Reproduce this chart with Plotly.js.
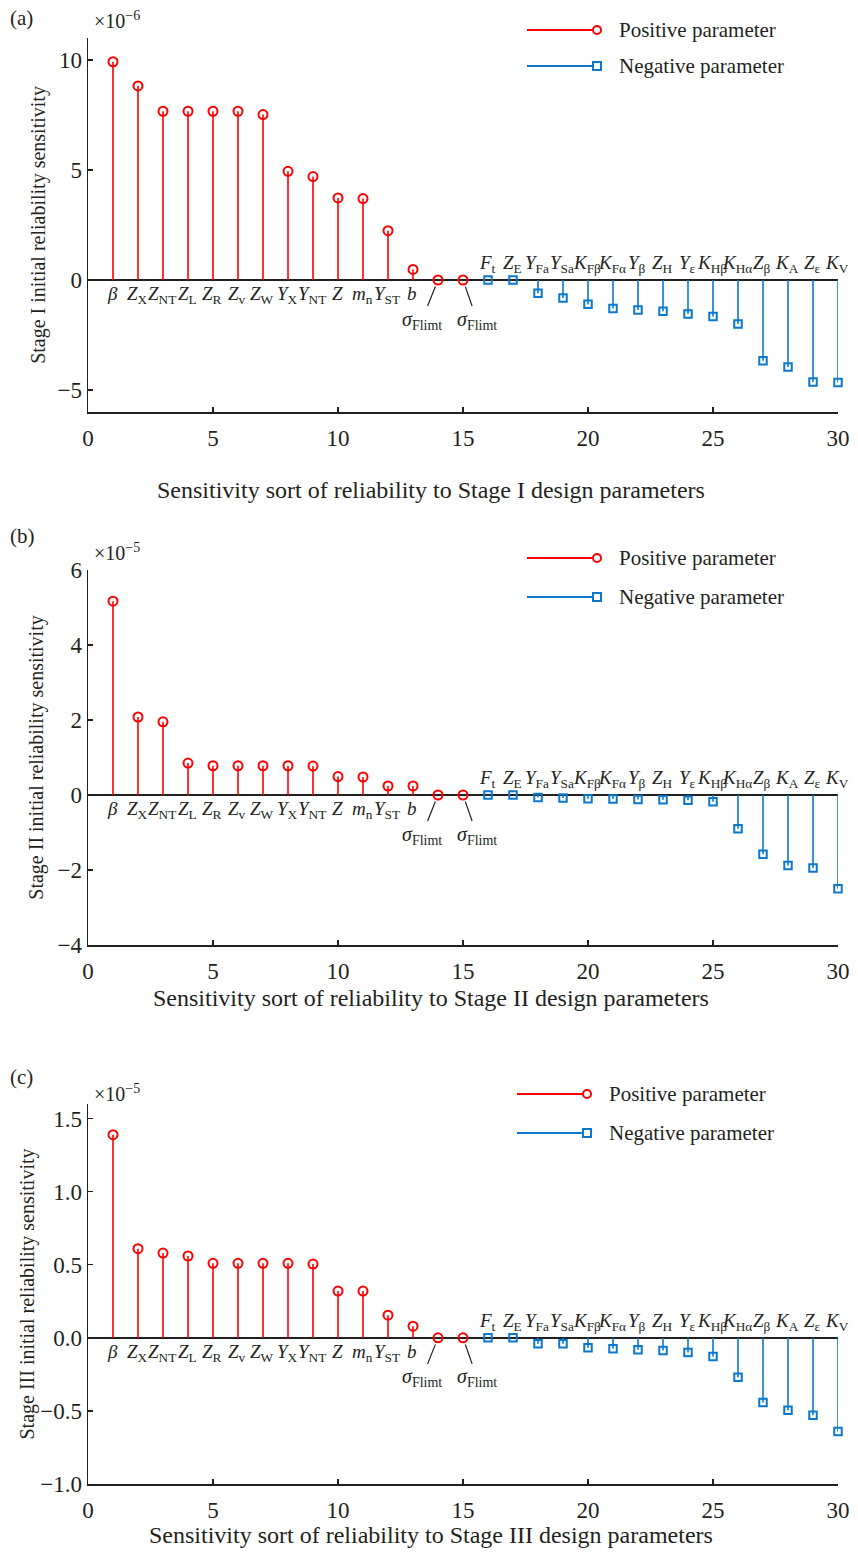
<!DOCTYPE html>
<html>
<head>
<meta charset="utf-8">
<script src="https://cdn.plot.ly/plotly-3.0.1.min.js"></script>
<style>html,body{margin:0;padding:0;background:#fff;}#chart{width:858px;height:1552px;}</style>
</head>
<body>
<div id="chart"></div>
<script>
// ---------- data (values shown in units of the axis multiplier) ----------
const rankPos = [1,2,3,4,5,6,7,8,9,10,11,12,13,14,15,16,17,18,19,20,21,22,23,24,25,26,27,28,29,30];
const paramLabels = [
  '<i>β</i>','<i>Z</i><sub>X</sub>','<i>Z</i><sub>NT</sub>','<i>Z</i><sub>L</sub>','<i>Z</i><sub>R</sub>',
  '<i>Z</i><sub>v</sub>','<i>Z</i><sub>W</sub>','<i>Y</i><sub>X</sub>','<i>Y</i><sub>NT</sub>','<i>Z</i>',
  '<i>m</i><sub>n</sub>','<i>Y</i><sub>ST</sub>','<i>b</i>','<i>σ</i><sub>Flimt</sub>','<i>σ</i><sub>Flimt</sub>',
  '<i>F</i><sub>t</sub>','<i>Z</i><sub>E</sub>','<i>Y</i><sub>Fa</sub>','<i>Y</i><sub>Sa</sub>','<i>K</i><sub>Fβ</sub>',
  '<i>K</i><sub>Fα</sub>','<i>Y</i><sub>β</sub>','<i>Z</i><sub>H</sub>','<i>Y</i><sub>ε</sub>','<i>K</i><sub>Hβ</sub>',
  '<i>K</i><sub>Hα</sub>','<i>Z</i><sub>β</sub>','<i>K</i><sub>A</sub>','<i>Z</i><sub>ε</sub>','<i>K</i><sub>V</sub>'
];
const nPositive = 15; // first 15 ranks are "positive parameters"

const stage1Vals = [9.92, 8.82, 7.67, 7.67, 7.67, 7.67, 7.52, 4.94, 4.70, 3.73, 3.70, 2.24, 0.48, 0, 0,
                    0, 0, -0.60, -0.82, -1.10, -1.30, -1.36, -1.42, -1.55, -1.66, -2.00, -3.67, -3.95, -4.64, -4.66];
const stage2Vals = [5.17, 2.08, 1.95, 0.85, 0.78, 0.78, 0.78, 0.78, 0.77, 0.49, 0.48, 0.24, 0.24, 0, 0,
                    0, 0, -0.07, -0.08, -0.10, -0.11, -0.12, -0.125, -0.14, -0.18, -0.90, -1.58, -1.88, -1.95, -2.50];
const stage3Vals = [1.39, 0.61, 0.58, 0.56, 0.51, 0.51, 0.51, 0.51, 0.505, 0.32, 0.32, 0.155, 0.08, 0, 0,
                    0, 0, -0.04, -0.04, -0.068, -0.075, -0.082, -0.087, -0.10, -0.128, -0.27, -0.443, -0.495, -0.53, -0.64];

const stageNames = ['I', 'II', 'III'];
const panelTags = ['(a)', '(b)', '(c)'];
const multipliers = ['×10<sup>−6</sup>', '×10<sup>−5</sup>', '×10<sup>−5</sup>'];
const legendNames = ['Positive parameter', 'Negative parameter'];

// ---------- layout helpers ----------
const W = 858, H = 1552;
const fx = p => p / W;
const fy = p => 1 - p / H;
const TXT = '#231f20';
const RED = '#ff0000';
const BLUE = '#0b78d0';
const FONT = 'Liberation Serif, Times New Roman, serif';

const panels = [
  {vals: stage1Vals, top: 38,   bottom: 412,  range: [-6, 11], dtick: 5,   fmt: '',    tagY: 18,   multY: 20,   legY: [30, 66],     legX: 527, xTitleY: 490,  yStand: 6},
  {vals: stage2Vals, top: 570,  bottom: 945,  range: [-4, 6],  dtick: 2,   fmt: '',    tagY: 536,  multY: 552,  legY: [558, 597],   legX: 527, xTitleY: 998,  yStand: 8},
  {vals: stage3Vals, top: 1104, bottom: 1484, range: [-1, 1.6], dtick: 0.5, fmt: '.1f', tagY: 1077, multY: 1093, legY: [1094, 1133], legX: 517, xTitleY: 1535, yStand: 0}
];

const data = [];
const layout = {
  width: W, height: H,
  margin: {l: 0, r: 0, t: 0, b: 0},
  paper_bgcolor: '#fff', plot_bgcolor: '#fff',
  font: {family: FONT, color: TXT, size: 20},
  showlegend: false,
  annotations: [], shapes: []
};

panels.forEach((p, k) => {
  const sfx = k === 0 ? '' : String(k + 1);
  const xa = 'x' + sfx, ya = 'y' + sfx;
  const posX = [], posY = [], negX = [], negY = [];
  const posSx = [], posSy = [], negSx = [], negSy = [];
  rankPos.forEach((r, i) => {
    const v = p.vals[i];
    if (i < nPositive) {
      posX.push(r); posY.push(v);
      posSx.push(r, r, null); posSy.push(0, v, null);
    } else {
      negX.push(r); negY.push(v);
      negSx.push(r, r, null); negSy.push(0, v, null);
    }
  });
  data.push({x: posSx, y: posSy, xaxis: xa, yaxis: ya, mode: 'lines', line: {color: RED, width: 1.6}, hoverinfo: 'skip', cliponaxis: false});
  data.push({x: negSx, y: negSy, xaxis: xa, yaxis: ya, mode: 'lines', line: {color: BLUE, width: 1.6}, hoverinfo: 'skip', cliponaxis: false});
  data.push({x: posX, y: posY, xaxis: xa, yaxis: ya, mode: 'markers', name: legendNames[0], cliponaxis: false,
             marker: {symbol: 'circle-open', size: 9, color: RED, line: {width: 2, color: RED}}});
  data.push({x: negX, y: negY, xaxis: xa, yaxis: ya, mode: 'markers', name: legendNames[1], cliponaxis: false,
             marker: {symbol: 'square-open', size: 7.5, color: BLUE, line: {width: 2, color: BLUE}}});

  layout['xaxis' + sfx] = {
    domain: [fx(88), fx(838)], anchor: ya, range: [0, 30], dtick: 5, tick0: 0,
    showline: true, linecolor: TXT, linewidth: 1.5, ticks: 'inside', ticklen: 5, tickwidth: 1.2, tickcolor: TXT,
    showgrid: false, zeroline: false, tickfont: {size: 23, color: TXT}, ticklabelstandoff: 5
  };
  layout['yaxis' + sfx] = {
    domain: [fy(p.bottom), fy(p.top)], anchor: xa, range: p.range, dtick: p.dtick, tick0: 0, tickformat: p.fmt,
    showline: true, linecolor: TXT, linewidth: 1.5, ticks: 'inside', ticklen: 5, tickwidth: 1.2, tickcolor: TXT,
    showgrid: false, zeroline: true, zerolinecolor: TXT, zerolinewidth: 1.5, tickfont: {size: 23, color: TXT}, ticklabelstandoff: 0,
    title: {text: 'Stage ' + stageNames[k] + ' initial reliability sensitivity', font: {size: 20, color: TXT}, standoff: p.yStand}
  };

  // x-axis title (centred on the figure, as in the reference)
  layout.annotations.push({xref: 'paper', yref: 'paper', x: fx(431), y: fy(p.xTitleY),
    text: 'Sensitivity sort of reliability to Stage ' + stageNames[k] + ' design parameters', showarrow: false,
    xanchor: 'center', yanchor: 'middle', font: {size: 24, color: TXT}});

  // parameter labels
  rankPos.forEach((r, i) => {
    if (i < 13) {
      layout.annotations.push({xref: xa, yref: ya, x: r, y: 0, text: paramLabels[i], showarrow: false,
        xanchor: 'center', xshift: -1, yanchor: 'top', yshift: -1, font: {size: 19, color: TXT}});
    } else if (i < nPositive) {
      const left = (i === 13);
      layout.annotations.push({xref: xa, yref: ya, x: r, y: 0, text: paramLabels[i], showarrow: true,
        arrowhead: 0, arrowwidth: 1.2, arrowcolor: TXT, ax: left ? -16 : 14, ay: 40, standoff: 7,
        font: {size: 20, color: TXT}});
    } else {
      layout.annotations.push({xref: xa, yref: ya, x: r, y: 0, text: paramLabels[i], showarrow: false,
        xanchor: 'center', xshift: -1, yanchor: 'bottom', yshift: 2, font: {size: 19, color: TXT}});
    }
  });

  // panel tag and multiplier
  layout.annotations.push({xref: 'paper', yref: 'paper', x: fx(8), y: fy(p.tagY), text: panelTags[k], showarrow: false,
    xanchor: 'left', yanchor: 'middle', font: {size: 21, color: TXT}});
  layout.annotations.push({xref: 'paper', yref: 'paper', x: fx(92), y: fy(p.multY), text: multipliers[k], showarrow: false,
    xanchor: 'left', yanchor: 'middle', font: {size: 20, color: TXT}});

  // custom legend (long line + marker at its right end)
  [RED, BLUE].forEach((c, j) => {
    const yy = fy(p.legY[j]);
    layout.shapes.push({type: 'line', xref: 'paper', yref: 'paper', x0: fx(p.legX), x1: fx(p.legX + 70), y0: yy, y1: yy,
      line: {color: c, width: 2}});
    layout.shapes.push({type: j === 0 ? 'circle' : 'rect', xref: 'paper', yref: 'paper',
      xsizemode: 'pixel', ysizemode: 'pixel', xanchor: fx(p.legX + 70), yanchor: yy,
      x0: -4, x1: 4, y0: -4, y1: 4, line: {color: c, width: 2}, fillcolor: '#fff'});
    layout.annotations.push({xref: 'paper', yref: 'paper', x: fx(p.legX + 90), y: yy, text: legendNames[j], showarrow: false,
      xanchor: 'left', yanchor: 'middle', font: {size: 21, color: TXT}});
  });
});

Plotly.newPlot('chart', data, layout, {staticPlot: true, displayModeBar: false});
</script>
</body>
</html>
